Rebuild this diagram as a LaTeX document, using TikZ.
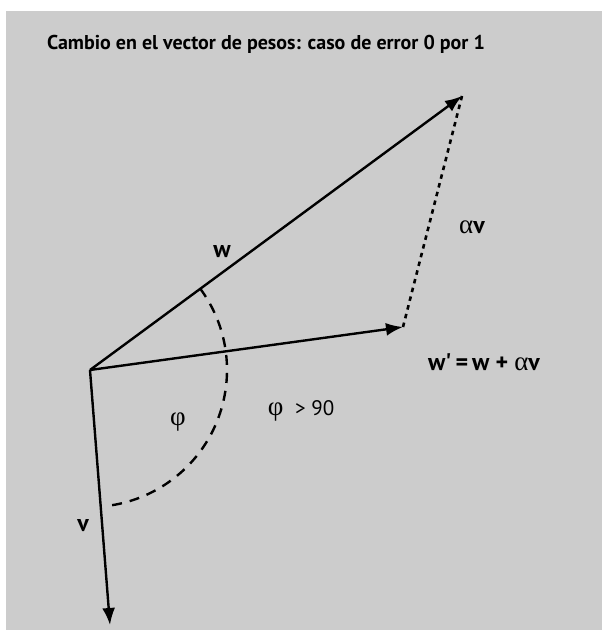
\documentclass[tikz,border=0pt]{standalone}
\usepackage{fontspec}
\setmainfont{PT Sans}
\newfontfamily\grk{Liberation Serif}
\usetikzlibrary{arrows.meta}

\begin{document}
\begin{tikzpicture}[
      x=1pt, y=1pt,
      vector/.style={
        -{Latex[length=17pt,width=13pt]},
        line width=2.4pt
      },
      dotline/.style={
        line width=2.6pt,
        dash pattern=on 4.5pt off 4.5pt
      },
      angle/.style={
        line width=2.4pt,
        dash pattern=on 10pt off 8pt
      },
      label/.style={
        font=\fontsize{24}{28}\selectfont\bfseries,
        inner sep=0pt
      },
      greek/.style={
        font=\fontsize{27}{32}\selectfont,
        inner sep=0pt
      }
    ]
      \useasboundingbox (0,0) rectangle (602,630);
      \fill[gray!40] (6,0) rectangle (602,619);
      \node[font=\fontsize{20}{24}\selectfont\bfseries] (title) at (266,586)
        {Cambio en el vector de pesos: caso de error 0 por 1};
      \coordinate (origin) at (90,260);
      \coordinate (w) at (462,534);
      \coordinate (wnew) at (403,303);
      \coordinate (v) at (110,5);
      \draw[vector] (origin) -- (w);
      \draw[vector] (origin) -- (wnew);
      \draw[vector] (origin) -- (v);
      \draw[dotline] (wnew) -- (w);
      \draw[angle] (origin) ++(36.4:137) arc[start angle=36.4, end angle=-83, radius=137];
      \node[label] (wlabel) at (222,378) {w};
      \node[label] (vlabel) at (83,104) {v};
      \node[greek] (alphav) at (472,403) {{\grk α}{\fontsize{24}{28}\selectfont\bfseries v}};
      \node[label] (sum) at (484,268) {w\textquotesingle\,=\,w + {\mdseries\fontsize{27}{32}\selectfont\grk α}v};
      \node[greek] (phi) at (178,208) {\grk φ};
      \node[greek] (phicond) at (301,219) {{\grk φ} \,{\fontsize{21}{24}\selectfont> 90}};
    \end{tikzpicture}
\end{document}
